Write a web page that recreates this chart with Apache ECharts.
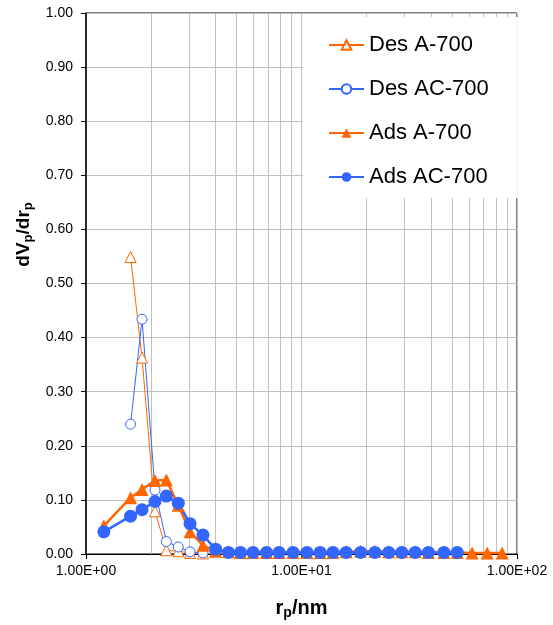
<!DOCTYPE html>
<html>
<head>
<meta charset="utf-8">
<script src="https://cdn.jsdelivr.net/npm/echarts@6/dist/echarts.min.js"></script>
<style>html,body{margin:0;padding:0;background:#fff;}#c{width:553px;height:625px;}</style>
</head>
<body>
<div id="c"></div>
<script>
// pore radius (nm)
const rp = [1.21, 1.61, 1.82, 2.09, 2.36, 2.68, 3.04, 3.49, 3.99, 4.58, 5.21, 5.96, 6.88, 7.87, 9.14,
            10.6, 12.2, 14.0, 16.1, 18.8, 21.9, 25.4, 29.2, 33.7, 38.8, 45.8, 52.8, 61.9, 72.7, 85.3];
const desA700 = [null, 0.549, 0.363, 0.079, 0.007, 0.005, 0.002, 0.001, null, null, null, null, null, null, null,
                 null, null, null, null, null, null, null, null, null, null, null, null, null, null, null];
const desAC700 = [null, 0.240, 0.434, 0.118, 0.023, 0.013, 0.004, 0.002, null, null, null, null, null, null, null,
                  null, null, null, null, null, null, null, null, null, null, null, null, null, null, null];
const adsA700 = [0.052, 0.104, 0.119, 0.136, 0.137, 0.090, 0.041, 0.016, 0.005, 0.004, 0.003, 0.003, 0.003, 0.003, 0.003,
                 0.003, 0.003, 0.003, 0.004, 0.005, 0.005, 0.004, 0.004, 0.004, 0.003, 0.003, 0.003, 0.002, 0.002, 0.002];
const adsAC700 = [0.041, 0.070, 0.082, 0.097, 0.107, 0.094, 0.056, 0.035, 0.009, 0.003, 0.003, 0.003, 0.003, 0.003, 0.003,
                  0.003, 0.003, 0.003, 0.003, 0.003, 0.003, 0.003, 0.003, 0.003, 0.003, 0.003, 0.003, null, null, null];
const seriesNames = ['Des A-700', 'Des AC-700', 'Ads A-700', 'Ads AC-700'];
const xTicks = [1, 10, 100];
const minorGrid = [2, 3, 4, 5, 6, 7, 8, 9, 20, 30, 40, 50, 60, 70, 80, 90];

const ORANGE = '#FF6600';
const BLUE = '#3366FF';

function pairs(vals) {
  const out = [];
  vals.forEach((v, i) => { if (v !== null) out.push([rp[i], v]); });
  return out;
}
function fmtExp(v) {
  const e = Math.round(Math.log10(v));
  const m = v / Math.pow(10, e);
  return m.toFixed(2) + 'E' + (e >= 0 ? '+' : '-') + String(Math.abs(e)).padStart(2, '0');
}

const chart = echarts.init(document.getElementById('c'));
const FONT = '"Liberation Sans", Arial, sans-serif';
chart.setOption({
  animation: false,
  backgroundColor: '#fff',
  textStyle: { fontFamily: FONT },
  grid: { left: 86, right: 36, top: 13, bottom: 66, show: true, borderColor: '#000', borderWidth: 1, containLabel: false },
  legend: {
    data: seriesNames,
    orient: 'vertical',
    left: 303, top: 17,
    padding: [17, 29, 10, 25],
    backgroundColor: '#fff',
    itemWidth: 35, itemHeight: 12, itemGap: 22,
    textStyle: { fontSize: 22, color: '#000', fontFamily: FONT },
    selectedMode: false
  },
  xAxis: {
    type: 'log', logBase: 10, min: 1, max: 100,
    name: '{b|r}{s|p}{b|/nm}',
    nameLocation: 'middle', nameGap: 42,
    nameTextStyle: {
      rich: {
        b: { fontSize: 20, fontWeight: 'bold', color: '#000', fontFamily: FONT },
        s: { fontSize: 14, fontWeight: 'bold', color: '#000', fontFamily: FONT, padding: [10, 0, 0, 0] }
      }
    },
    axisLine: { lineStyle: { color: '#000', width: 1 } },
    axisTick: { show: true, inside: false, length: 5, lineStyle: { color: '#000' } },
    axisLabel: { fontSize: 14, color: '#000', margin: 10, formatter: v => fmtExp(v), showMinLabel: true, showMaxLabel: true },
    splitLine: { show: true, lineStyle: { color: '#c0c0c0', width: 1 } }
  },
  yAxis: {
    type: 'value', min: 0, max: 1, interval: 0.1,
    name: '{b|dV}{s|p}{b|/dr}{s|p}',
    nameLocation: 'middle', nameGap: 43,
    nameTextStyle: {
      padding: [0, 0, 0, 98],
      rich: {
        b: { fontSize: 19, fontWeight: 'bold', color: '#000', fontFamily: FONT },
        s: { fontSize: 13, fontWeight: 'bold', color: '#000', fontFamily: FONT, padding: [10, 0, 0, 0] }
      }
    },
    axisLine: { show: true, lineStyle: { color: '#000', width: 1.5 } },
    axisTick: { show: true, inside: false, length: 5, lineStyle: { color: '#000' } },
    axisLabel: { fontSize: 14, color: '#000', margin: 13, formatter: v => v.toFixed(2) },
    splitLine: { show: true, lineStyle: { color: '#c0c0c0', width: 1 } }
  },
  series: [
    {
      name: seriesNames[0], type: 'line', data: pairs(desA700),
      symbol: 'triangle', symbolSize: 11, showAllSymbol: true,
      itemStyle: { color: '#fff', borderColor: ORANGE, borderWidth: 1 },
      lineStyle: { color: ORANGE, width: 1 },
      markLine: {
        silent: true, symbol: ['none', 'none'], z: 1,
        label: { show: false },
        lineStyle: { color: '#c0c0c0', width: 1, type: 'solid' },
        emphasis: { disabled: true },
        data: minorGrid.map(v => ({ xAxis: v }))
      }
    },
    {
      name: seriesNames[1], type: 'line', data: pairs(desAC700),
      symbol: 'circle', symbolSize: 10, showAllSymbol: true,
      itemStyle: { color: '#fff', borderColor: BLUE, borderWidth: 1 },
      lineStyle: { color: BLUE, width: 1 }
    },
    {
      name: seriesNames[2], type: 'line', data: pairs(adsA700),
      symbol: 'triangle', symbolSize: 13, showAllSymbol: true,
      itemStyle: { color: ORANGE },
      lineStyle: { color: ORANGE, width: 2.5 }
    },
    {
      name: seriesNames[3], type: 'line', data: pairs(adsAC700),
      symbol: 'circle', symbolSize: 13, showAllSymbol: true,
      itemStyle: { color: BLUE },
      lineStyle: { color: BLUE, width: 2.5 }
    }
  ]
});
</script>
</body>
</html>
